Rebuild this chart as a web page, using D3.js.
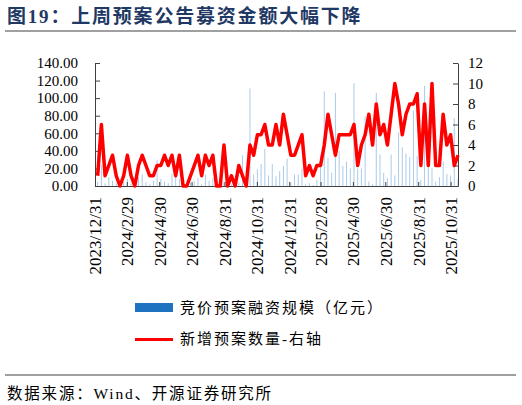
<!DOCTYPE html>
<html>
<head>
<meta charset="utf-8">
<script src="https://cdn.jsdelivr.net/npm/d3@7"></script>
<style>
  body { margin: 0; background: #fff; }
  text { font-family: "Liberation Serif", "Noto Sans CJK SC", serif; }
</style>
</head>
<body>
<div id="chart"></div>
<script>
// weekly points, Friday to Friday
const firstWeek = "2024/01/05";
const lastWeek = "2025/11/14";
const axisStart = "2023/12/31";

// 竞价预案融资规模（亿元）
const amount = [5, 24, 3, 10, 6, 3, 0, 5, 8, 3,
    0, 10, 13, 4, 2, 6, 30, 8, 5, 3,
    14, 16, 8, 0, 0, 4, 6, 9, 2, 13,
    6, 9, 0, 0, 5, 0, 2, 0, 4, 35,
    0, 111, 13, 19, 25, 42, 12, 25, 11, 17,
    23, 31, 4, 13, 13, 20, 2, 3, 1, 7,
    35, 108, 32, 15, 106, 40, 23, 28, 20, 117,
    20, 20, 79, 5, 2, 106, 36, 15, 9, 36,
    12, 61, 44, 37, 33, 86, 34, 7, 114, 60,
    20, 5, 10, 28, 14, 12, 77, 8];

// 新增预案数量 (right axis)
const count = [1, 6, 1, 2, 3, 1, 0, 1, 3, 1,
    0, 2, 3, 2, 1, 1, 2, 2, 3, 2,
    3, 1, 3, 0, 0, 1, 2, 3, 1, 3,
    2, 3, 0, 0, 4, 0, 1, 0, 2, 1,
    0, 4, 3, 5, 5, 6, 4, 4, 6, 4,
    7, 5, 3, 3, 4, 5, 1, 2, 1, 2,
    2, 4, 7, 5, 3, 5, 5, 5, 5, 6,
    2, 4, 5, 7, 4, 8, 5, 6, 4, 7,
    10, 8, 5, 7, 8, 8, 9, 2, 8, 2,
    10, 2, 2, 7, 4, 5, 2, 3];

const dateTicks = ["2023/12/31", "2024/2/29", "2024/4/30", "2024/6/30", "2024/8/31", "2024/10/31",
    "2024/12/31", "2025/2/28", "2025/4/30", "2025/6/30", "2025/8/31", "2025/10/31"];
const leftTicks = [0, 20, 40, 60, 80, 100, 120, 140];
const rightTicks = [0, 2, 4, 6, 8, 10, 12];

const titleText = "图19：上周预案公告募资金额大幅下降";
const barName = "竞价预案融资规模（亿元）";
const lineName = "新增预案数量-右轴";
const sourceText = "数据来源：Wind、开源证券研究所";

const width = 522, height = 405;
const margin = {top: 63, right: 64, bottom: 219, left: 95};
const dia_width = width - margin.left - margin.right;
const dia_height = height - margin.top - margin.bottom;

const parse = d3.timeParse("%Y/%m/%d");
const weeks = d3.timeFriday.range(parse(firstWeek), d3.timeDay.offset(parse(lastWeek), 1));

const svg = d3.select("#chart")
    .append("svg")
    .attr("width", width)
    .attr("height", height);

// title + rules
svg.append("text")
    .attr("x", 7)
    .attr("y", 23)
    .attr("fill", "#1f3864")
    .style("font-size", "19px")
    .style("font-weight", "bold")
    .style("letter-spacing", "1.8px")
    .text(titleText);
svg.append("line")
    .attr("x1", 5).attr("x2", 516)
    .attr("y1", 31).attr("y2", 31)
    .attr("stroke", "#808080")
    .attr("stroke-width", 1.5);

const g = svg.append("g")
    .attr("transform", "translate(" + margin.left + "," + margin.top + ")");

const x = d3.scaleTime()
    .domain([parse(axisStart), parse(lastWeek)])
    .range([0, dia_width]);
const yL = d3.scaleLinear().domain([0, 140]).range([dia_height, 0]);
const yR = d3.scaleLinear().domain([0, 12]).range([dia_height, 0]);

// bars
g.selectAll("rect.bar")
    .data(amount)
    .enter()
    .append("rect")
    .attr("class", "bar")
    .attr("x", (d, i) => x(weeks[i]) - 0.5)
    .attr("y", d => yL(d))
    .attr("width", 1)
    .attr("height", d => dia_height - yL(d))
    .attr("fill", "#a9cbea");

// axes
const axisStyle = sel => {
    sel.selectAll("path, line").attr("stroke", "#404040");
    sel.selectAll("text").attr("fill", "#000");
};

g.append("g")
    .call(d3.axisLeft(yL).tickValues(leftTicks).tickFormat(d3.format(".2f"))
        .tickSizeInner(-5).tickSizeOuter(0).tickPadding(17))
    .call(axisStyle)
    .call(a => a.selectAll("text").style("font-size", "15px"));

g.append("g")
    .attr("transform", "translate(" + dia_width + ",0)")
    .call(d3.axisRight(yR).tickValues(rightTicks)
        .tickSizeInner(-5).tickSizeOuter(0).tickPadding(10))
    .call(axisStyle)
    .call(a => a.selectAll("text").style("font-size", "15px"));

g.append("g")
    .attr("transform", "translate(0," + dia_height + ")")
    .call(d3.axisBottom(x).tickValues(dateTicks.map(parse))
        .tickFormat((d, i) => dateTicks[i])
        .tickSizeInner(-4).tickSizeOuter(0))
    .call(axisStyle)
    .call(a => a.selectAll("text")
        .style("font-size", "17px")
        .style("text-anchor", "end")
        .attr("transform", "rotate(-90)")
        .attr("x", -11)
        .attr("y", 0)
        .attr("dy", "0.35em"));

// line
const line = d3.line()
    .x((d, i) => x(weeks[i]))
    .y(d => yR(d));
g.append("path")
    .datum(count)
    .attr("fill", "none")
    .attr("stroke", "#ff0000")
    .attr("stroke-width", 3.5)
    .attr("stroke-linejoin", "round")
    .attr("d", line);

// legend
svg.append("rect")
    .attr("x", 135).attr("y", 303)
    .attr("width", 38).attr("height", 9)
    .attr("fill", "#1f72c0");
svg.append("text")
    .attr("x", 180).attr("y", 308)
    .attr("dominant-baseline", "central")
    .style("font-size", "15px")
    .style("letter-spacing", "2px")
    .text(barName);
svg.append("line")
    .attr("x1", 135).attr("x2", 173)
    .attr("y1", 339.5).attr("y2", 339.5)
    .attr("stroke", "#ff0000")
    .attr("stroke-width", 3);
svg.append("text")
    .attr("x", 180).attr("y", 339)
    .attr("dominant-baseline", "central")
    .style("font-size", "15px")
    .style("letter-spacing", "2px")
    .text(lineName);

// source
svg.append("line")
    .attr("x1", 5).attr("x2", 516)
    .attr("y1", 375).attr("y2", 375)
    .attr("stroke", "#404040")
    .attr("stroke-width", 1.2);
svg.append("text")
    .attr("x", 7).attr("y", 393)
    .attr("dominant-baseline", "central")
    .style("font-size", "15.5px")
    .style("letter-spacing", "1.8px")
    .text(sourceText);
</script>
</body>
</html>
